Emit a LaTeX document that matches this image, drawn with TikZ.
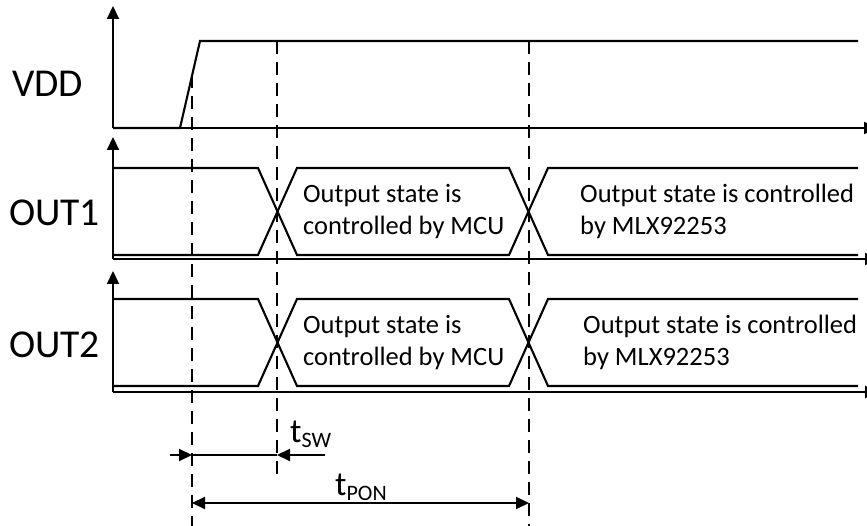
\documentclass[tikz,border=0pt]{standalone}
\usepackage{fontspec}
\setmainfont{Carlito}
\usetikzlibrary{arrows.meta}
\begin{document}
\begin{tikzpicture}[x=1pt,y=-1pt,
  sig/.style={line width=2.1pt, line join=miter},
  axisline/.style={line width=2.1pt, -{Triangle[length=13pt,width=12pt]}},
  guide/.style={line width=1.8pt, dash pattern=on 13pt off 8pt},
  dimline/.style={line width=2.1pt},
  tip/.style={-{Triangle[length=13pt,width=12pt]}},
  rowlbl/.style={font=\fontsize{39.5}{40}\selectfont, anchor=base west, inner sep=0pt},
  note/.style={font=\fontsize{26.5}{32}\selectfont, anchor=base west, inner sep=0pt},
  tlbl/.style={font=\fontsize{34}{36}\selectfont, anchor=base west, inner sep=0pt},
]
\useasboundingbox (0,0) rectangle (867,526);
\newcommand{\subtxt}[1]{{\fontsize{22}{24}\selectfont\raisebox{-5pt}{#1}}}

% ---------- VDD ----------
\coordinate (vo) at (113,128);
\coordinate (vtop) at (113,6);
\coordinate (vend) at (877,128);
\draw[axisline] (vo) -- (vtop);
\draw[axisline] (vo) -- (vend);
\coordinate (vr0) at (180,128);
\coordinate (vr1) at (200,41);
\coordinate (vh) at (858,41);
\draw[sig] (vo) -- (vr0) -- (vr1) -- (vh);
\node[rowlbl] (lvdd) at (12,97) {VDD};

% ---------- OUT1 ----------
\coordinate (ao) at (113,259);
\coordinate (atop) at (113,137);
\coordinate (aend) at (878,259);
\draw[axisline] (ao) -- (atop);
\draw[axisline] (ao) -- (aend);
\draw[sig] (113,168) -- (258,168) -- (297,255) -- (509,255) -- (548,168) -- (858,168);
\draw[sig] (113,255) -- (258,255) -- (297,168) -- (509,168) -- (548,255) -- (858,255);
\node[rowlbl] (lo1) at (9,226) {OUT1};
\node[note] (n1a) at (303,203) {Output state is};
\node[note] (n1b) at (303,235) {controlled by MCU};
\node[note] (n1c) at (580,203) {Output state is controlled};
\node[note] (n1d) at (580,235) {by MLX92253};

% ---------- OUT2 ----------
\coordinate (bo) at (113,392);
\coordinate (btop) at (113,271);
\coordinate (bend) at (878,392);
\draw[axisline] (bo) -- (btop);
\draw[axisline] (bo) -- (bend);
\draw[sig] (113,299) -- (258,299) -- (297,386) -- (509,386) -- (548,299) -- (858,299);
\draw[sig] (113,386) -- (258,386) -- (297,299) -- (509,299) -- (548,386) -- (858,386);
\node[rowlbl] (lo2) at (9,357) {OUT2};
\node[note] (n2a) at (303,334) {Output state is};
\node[note] (n2b) at (303,366) {controlled by MCU};
\node[note] (n2c) at (583,334) {Output state is controlled};
\node[note] (n2d) at (583,366) {by MLX92253};

% ---------- guides ----------
\coordinate (g1t) at (192,75);
\coordinate (g1b) at (192,530);
\coordinate (g2t) at (277,41);
\coordinate (g2b) at (277,478);
\coordinate (g3t) at (529,41);
\coordinate (g3b) at (529,530);
\draw[guide] (g1t) -- (g1b);
\draw[guide] (g2t) -- (g2b);
\draw[guide] (g3t) -- (g3b);

% ---------- timing dimensions ----------
\coordinate (s0) at (170,455);
\coordinate (s1) at (192,455);
\coordinate (s2) at (277,455);
\coordinate (s3) at (325,455);
\draw[dimline,tip] (s0) -- (s1);
\draw[dimline] (s1) -- (s2);
\draw[dimline,tip] (s3) -- (s2);
\node[tlbl] (tsw) at (290,442) {t\subtxt{SW}};

\coordinate (p0) at (192,503);
\coordinate (p1) at (529,503);
\draw[dimline,{Triangle[length=13pt,width=12pt]}-{Triangle[length=13pt,width=12pt]}] (p0) -- (p1);
\node[tlbl] (tpon) at (335,495) {t\subtxt{PON}};
\end{tikzpicture}
\end{document}
